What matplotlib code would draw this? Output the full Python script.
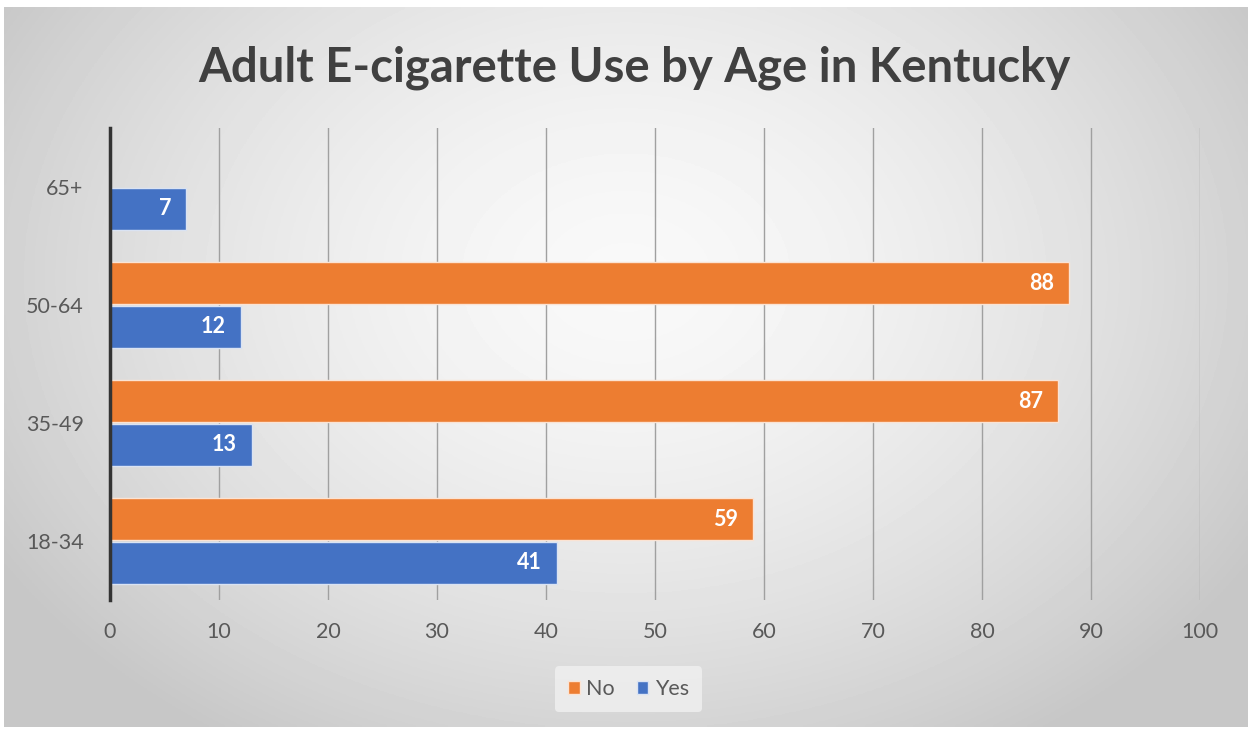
import numpy as np
import matplotlib
matplotlib.use("Agg")
import matplotlib.pyplot as plt

# data
ages = ["18-34", "35-49", "50-64", "65+"]
no_vals = [59, 87, 88, None]
yes_vals = [41, 13, 12, 7]
xticks = [0, 10, 20, 30, 40, 50, 60, 70, 80, 90, 100]

orange = "#ED7D31"
blue = "#4472C4"
text_gray = "#595959"

plt.rcParams["font.family"] = ["Lato", "DejaVu Sans"]

fig = plt.figure(figsize=(12.52, 7.31), dpi=100)
fig.patch.set_facecolor("white")

# gray radial gradient background
bg = fig.add_axes([4 / 1252, 4 / 731, 1244 / 1252, 720 / 731], zorder=-10)
gx, gy = np.meshgrid(np.linspace(-1, 1, 400), np.linspace(-1, 1, 240))
r = np.sqrt((gx / 1.0) ** 2 + ((gy + 0.25) / 1.3) ** 2)
shade = np.clip(0.975 - 0.15 * r ** 1.6, 0.78, 1)
bg.imshow(shade, cmap="gray", vmin=0, vmax=1, aspect="auto", extent=[0, 1, 0, 1], origin="upper")
bg.set_axis_off()

ax = fig.add_axes([110 / 1252, 131 / 731, 1090 / 1252, 472 / 731])
ax.patch.set_alpha(0)

y = np.arange(len(ages))
h = 0.355
no_plot = [v if v is not None else 0 for v in no_vals]
bars_no = ax.barh(y + 0.185, no_plot, height=h, color=orange, edgecolor="#fbe3d3", linewidth=1, label="No", zorder=3)
bars_yes = ax.barh(y - 0.185, yes_vals, height=h, color=blue, edgecolor="#dae3f3", linewidth=1, label="Yes", zorder=3)

for bars, vals in [(bars_no, no_vals), (bars_yes, yes_vals)]:
    for b, v in zip(bars, vals):
        if v is None:
            continue
        ax.text(b.get_width() - 1.4, b.get_y() + b.get_height() / 2, str(v),
                ha="right", va="center", color="white", fontsize=15.5, fontweight="bold", zorder=4)

ax.set_xlim(0, 100)
ax.set_ylim(-0.5, 3.5)
ax.set_xticks(xticks)
ax.set_yticks(y)
ax.set_yticklabels(ages)
ax.tick_params(axis="both", length=0, labelsize=15.5, colors=text_gray)
ax.tick_params(axis="x", pad=16)
ax.tick_params(axis="y", pad=19)
ax.grid(axis="x", color="#a0a0a0", linewidth=1, zorder=0)
for s in ["top", "right", "bottom"]:
    ax.spines[s].set_visible(False)
ax.spines["left"].set_color("#333333")
ax.spines["left"].set_linewidth(2.5)
ax.spines["left"].set_zorder(5)

fig.text(0.507, 0.908, "Adult E-cigarette Use by Age in Kentucky", ha="center", va="center",
         fontsize=34, fontweight="bold", color="#404040")

leg = fig.legend(handles=[bars_no, bars_yes], labels=["No", "Yes"], loc="center",
                 bbox_to_anchor=(0.502, 0.057), ncol=2, frameon=True, fontsize=15.5,
                 handlelength=0.55, handleheight=0.55, handletextpad=0.3, columnspacing=1.0,
                 borderpad=0.6)
leg.get_frame().set_facecolor("#eeeeee")
leg.get_frame().set_edgecolor("none")
leg.get_frame().set_alpha(0.9)
for t in leg.get_texts():
    t.set_color(text_gray)

fig.savefig("out.png", dpi=100)
